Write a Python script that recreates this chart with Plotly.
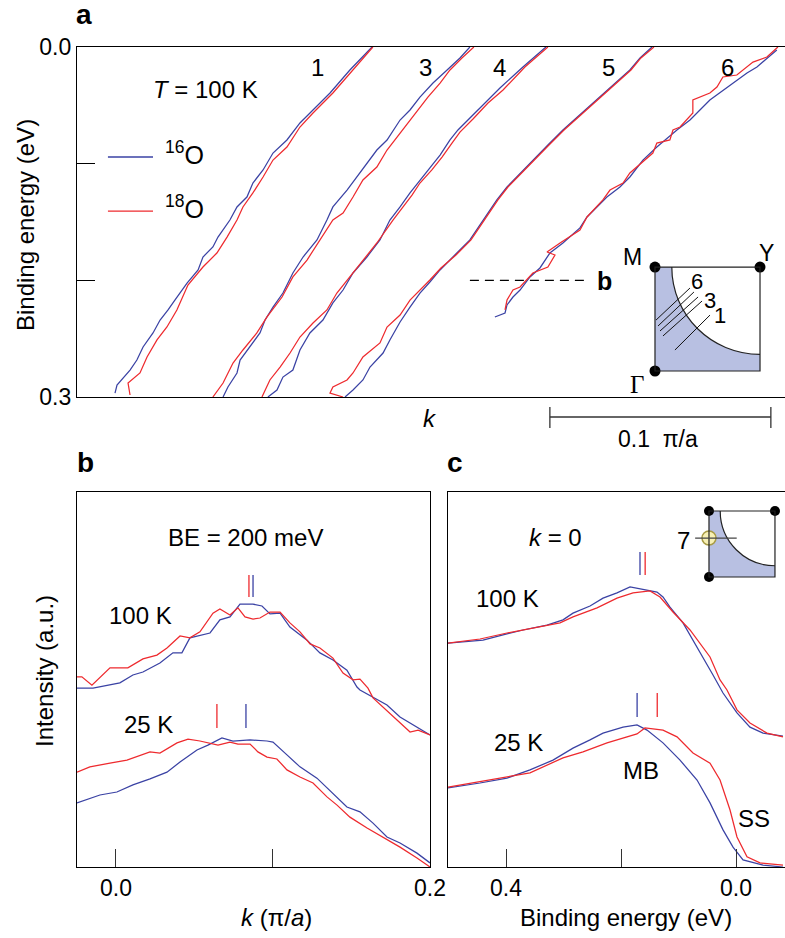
import plotly.graph_objects as go

W, H = 785, 938
BLUE = "#3a42a4"
RED = "#ee2a2e"
SHADE = "#b8c0e2"
FONT = "Liberation Sans, Arial, Helvetica, sans-serif"

# ---------------- Panel a : dispersions (k in pi/a, binding energy in eV) ----------------
a1_blue_k = [.1335,.1235,.1145,.1068,.1009,.0950,.0887,.0842,.0796,.0769,.0724,.0692,.0638,.0615,.0570,.0548,.0498,.0443,.0412,.0376,.0344,.0299,.0271,.0240,.0181,.0172]
a1_blue_be = [0,.0197,.0394,.0540,.0651,.0797,.0909,.1054,.1166,.1286,.1371,.1483,.1629,.1714,.1800,.1911,.2023,.2169,.2254,.2340,.2451,.2571,.2683,.2769,.2897,.2966]
a1_red_k = [.1339,.1249,.1158,.1068,.1009,.0950,.0887,.0842,.0796,.0751,.0724,.0679,.0633,.0570,.0502,.0452,.0407,.0362,.0317,.0285,.0231,.0240]
a1_red_be = [0,.0197,.0394,.0566,.0686,.0857,.0969,.1114,.1251,.1371,.1483,.1629,.1766,.1886,.2040,.2254,.2400,.2511,.2657,.2794,.2880,.2983]

a3_blue_k = [.1778,.1733,.1665,.1611,.1552,.1507,.1462,.1403,.1357,.1312,.1267,.1222,.1158,.1131,.1086,.1023,.0977,.0932,.0887,.0851,.0828,.0783,.0738,.0724,.0683,.0661]
a3_blue_be = [0,.0094,.0214,.0309,.0429,.0540,.0626,.0797,.0883,.0994,.1114,.1226,.1371,.1483,.1654,.1800,.1937,.2109,.2229,.2340,.2451,.2571,.2683,.2794,.2914,.3000]
a3_red_k = [.1796,.1742,.1688,.1643,.1588,.1543,.1462,.1403,.1357,.1294,.1249,.1204,.1158,.1100,.1041,.0977,.0928,.0860,.0814,.0751,.0706,.0661,.0615]
a3_red_be = [0,.0094,.0197,.0309,.0429,.0540,.0737,.0883,.1029,.1140,.1286,.1423,.1483,.1654,.1826,.1971,.2143,.2314,.2451,.2597,.2709,.2880,.3000]

a4_blue_k = [.2122,.2018,.1914,.1846,.1778,.1724,.1688,.1643,.1597,.1552,.1507,.1462,.1416,.1371,.1312,.1249,.1204,.1158,.1113,.1054,.1009,.0977,.0932,.0905,.0864]
a4_blue_be = [0,.0171,.0351,.0480,.0600,.0711,.0797,.0926,.1037,.1140,.1251,.1371,.1483,.1654,.1800,.1937,.2083,.2194,.2340,.2451,.2597,.2769,.2829,.2940,.3000]
a4_red_k = [.2131,.2027,.1928,.1860,.1792,.1733,.1697,.1652,.1606,.1552,.1516,.1471,.1430,.1357,.1294,.1235,.1176,.1131,.1068,.1009,.0964,.0919,.0873,.0837]
a4_red_be = [0,.0171,.0369,.0480,.0617,.0729,.0823,.0943,.1054,.1166,.1269,.1380,.1483,.1680,.1826,.1971,.2109,.2254,.2366,.2486,.2623,.2743,.2854,.3000]

a5_blue_k = [.2602,.2548,.2502,.2425,.2353,.2276,.2199,.2131,.2063,.2005,.1946,.1900,.1855,.1778,.1710,.1643,.1597,.1552,.1507,.1462,.1416,.1385,.1326,.1294,.1249,.1213]
a5_blue_be = [0,.0094,.0197,.0326,.0454,.0583,.0711,.0840,.0969,.1080,.1200,.1311,.1440,.1654,.1783,.1911,.2014,.2109,.2229,.2357,.2511,.2623,.2743,.2854,.2940,.3000]
a5_red_k = [.2611,.2552,.2507,.2430,.2357,.2281,.2204,.2136,.2068,.2009,.1950,.1905,.1860,.1783,.1715,.1647,.1597,.1552,.1507,.1462,.1403,.1371,.1294,.1249,.1222,.1158,.1145,.1204]
a5_red_be = [0,.0094,.0197,.0326,.0454,.0583,.0711,.0840,.0969,.1080,.1200,.1311,.1440,.1654,.1783,.1894,.1997,.2083,.2169,.2297,.2400,.2537,.2657,.2794,.2854,.2914,.2966,.3000]

a6_blue_k = [.3167,.3077,.3032,.2923,.2864,.2774,.2715,.2624,.2561,.2502,.2457,.2398,.2353,.2308,.2276,.2199,.2140,.2095,.2050,.2005,.1973,.1946,.1937,.1891]
a6_blue_be = [.0026,.0171,.0223,.0369,.0454,.0626,.0711,.0857,.0969,.1114,.1200,.1286,.1371,.1457,.1551,.1680,.1766,.1894,.1971,.2083,.2143,.2211,.2280,.2314]
a6_red_k = [.3172,.3122,.3059,.3032,.2986,.2923,.2896,.2864,.2787,.2787,.2729,.2697,.2683,.2624,.2606,.2502,.2471,.2412,.2380,.2308,.2276,.2186,.2127,.2163,.2131,.2063,.2036,.2005,.1973,.1946,.1937]
a6_red_be = [0,.0086,.0129,.0171,.0240,.0257,.0343,.0394,.0454,.0566,.0686,.0711,.0797,.0823,.0909,.1080,.1166,.1226,.1311,.1457,.1569,.1680,.1757,.1783,.1886,.1937,.1997,.2057,.2083,.2169,.2254]

cut_labels = ["1", "3", "4", "5", "6"]
cut_label_k = [.1090, .1579, .1914, .2403, .2946]
cut_label_be = 0.018
a_ticks = [0.0, 0.3]
a_ticktext = ["0.0", "0.3"]
a_minor_ticks = [0.1, 0.2]
be_cut = 0.2                      # dashed line marking panel b
scale_bar_k = [0.214, 0.314]      # 0.1 pi/a

# ---------------- Panel b : MDCs at BE = 200 meV ----------------
b_red100_k = [-.0248,-.0217,-.0153,-.0038,.0076,.0172,.0261,.0325,.0408,.0471,.0535,.0618,.0662,.0726,.0777,.0822,.0873,.0917,.0981,.1045,.1108,.1172,.1236,.1299,.1382,.1446,.1510,.1554,.1605,.1637,.1790,.1873,.1924,.2000]
b_red100_I = [.507,.507,.485,.531,.531,.555,.565,.584,.616,.611,.627,.677,.688,.672,.691,.667,.661,.664,.680,.680,.651,.627,.595,.584,.557,.517,.499,.501,.477,.451,.392,.360,.365,.352]
b_blue100_k = [-.0248,-.0146,.0025,.0108,.0172,.0280,.0363,.0420,.0471,.0599,.0662,.0726,.0790,.0873,.0930,.0981,.1045,.1108,.1217,.1299,.1382,.1471,.1535,.1554,.1726,.1809,.2000]
b_blue100_I = [.477,.477,.491,.512,.520,.544,.571,.571,.611,.624,.659,.667,.701,.701,.696,.675,.677,.640,.605,.571,.552,.525,.480,.472,.432,.400,.352]
b_red25_k = [-.0248,-.0166,-.0038,.0070,.0217,.0280,.0389,.0459,.0535,.0599,.0650,.0726,.0777,.0854,.0904,.0962,.1025,.1089,.1172,.1255,.1344,.1408,.1490,.1599,.1701,.1809,.1917,.2000]
b_red25_I = [.253,.267,.277,.285,.307,.304,.331,.341,.336,.331,.325,.333,.328,.328,.307,.293,.288,.259,.240,.224,.187,.165,.133,.104,.080,.053,.024,0]
b_blue25_k = [-.0248,-.0102,.0006,.0108,.0217,.0325,.0408,.0516,.0586,.0675,.0745,.0854,.0962,.1000,.1089,.1172,.1280,.1382,.1471,.1554,.1637,.1726,.1809,.1917,.2000]
b_blue25_I = [.171,.192,.200,.219,.235,.253,.280,.312,.325,.344,.336,.339,.336,.333,.299,.267,.237,.197,.160,.147,.117,.080,.064,.037,.011]
b_peak100 = {"red": .0847, "blue": .0873}
b_peak100_I = [.720, .779]
b_peak25 = {"red": .0643, "blue": .0828}
b_peak25_I = [.371, .435]
b_ticks = [0.0, 0.2]
b_ticktext = ["0.0", "0.2"]
b_minor_ticks = [0.1]

# ---------------- Panel c : EDCs at k = 0 ----------------
c_blue100_be = [.5009,.4748,.4400,.4052,.3704,.3287,.3009,.2835,.2539,.2313,.2070,.1843,.1617,.1374,.1270,.1148,.0922,.0678,.0400,.0226,-.0017,-.0243,-.0470,-.0817]
c_blue100_I = [.597,.600,.605,.619,.632,.645,.659,.677,.696,.717,.731,.747,.741,.733,.720,.693,.651,.587,.512,.464,.411,.373,.357,.349]
c_red100_be = [.5009,.4452,.3983,.3583,.3061,.2835,.2417,.2070,.1791,.1496,.1322,.1096,.0800,.0452,.0278,.0157,-.0017,-.0243,-.0539,-.0817]
c_red100_I = [.597,.608,.624,.635,.651,.667,.691,.717,.731,.736,.720,.680,.632,.560,.499,.472,.419,.384,.357,.347]
c_blue25_be = [.5009,.4452,.3983,.3583,.3183,.2835,.2539,.2313,.1965,.1722,.1548,.1270,.0974,.0678,.0452,.0226,.0052,-.0122,-.0470,-.0817]
c_blue25_I = [.211,.224,.237,.259,.285,.317,.339,.357,.373,.379,.365,.331,.285,.232,.171,.099,.053,.019,.005,0]
c_red25_be = [.5009,.4157,.3583,.3009,.2661,.2243,.1896,.1722,.1583,.1270,.1026,.0748,.0452,.0278,.0104,-.0017,-.0191,-.0417,-.0817]
c_red25_I = [.213,.235,.251,.291,.307,.331,.347,.355,.371,.365,.347,.304,.277,.232,.152,.080,.027,.011,.005]
c_peak100 = {"red": .158, "blue": .167}
c_peak100_I = [.779, .840]
c_peak25 = {"red": .137, "blue": .172}
c_peak25_I = [.400, .464]
c_ticks = [0.4, 0.0]
c_ticktext = ["0.4", "0.0"]
c_minor_ticks = [0.2]

# ---------------- Brillouin-zone insets (units of the zone quadrant) ----------------
bz_corners_x = [0, 0, 1]          # Gamma, M, Y
bz_corners_y = [0, 1, 1]
fs_radius_a = 0.84
cuts_a = [  # (x0, y0, x1, y1) for cuts 6,5,4,3,1
    (.010, .490, .333, .798), (.029, .433, .371, .760), (.048, .385, .410, .712),
    (.076, .337, .448, .673), (.190, .202, .524, .538)]
cut_text_a = [("6", .40, .86), ("3", .52, .68), ("1", .62, .53)]
fs_radius_c = 0.83
cut7_y = 0.59
cut7_x = [-0.21, 0.42]

fig = go.Figure()


def line(x, y, color, xa, ya, width=1.25):
    fig.add_trace(go.Scatter(x=x, y=y, mode="lines", line=dict(color=color, width=width),
                             xaxis=xa, yaxis=ya, hoverinfo="skip", showlegend=False))


# panel a curves
for kb, eb, kr, er in [(a1_blue_k, a1_blue_be, a1_red_k, a1_red_be),
                       (a3_blue_k, a3_blue_be, a3_red_k, a3_red_be),
                       (a4_blue_k, a4_blue_be, a4_red_k, a4_red_be),
                       (a5_blue_k, a5_blue_be, a5_red_k, a5_red_be),
                       (a6_blue_k, a6_blue_be, a6_red_k, a6_red_be)]:
    line(kb, eb, BLUE, "x", "y")
    line(kr, er, RED, "x", "y")

# panel b curves
line(b_blue100_k, b_blue100_I, BLUE, "x2", "y2")
line(b_red100_k, b_red100_I, RED, "x2", "y2")
line(b_blue25_k, b_blue25_I, BLUE, "x2", "y2")
line(b_red25_k, b_red25_I, RED, "x2", "y2")
for pk, rng in [(b_peak100, b_peak100_I), (b_peak25, b_peak25_I)]:
    line([pk["red"]] * 2, rng, RED, "x2", "y2", 1.3)
    line([pk["blue"]] * 2, rng, BLUE, "x2", "y2", 1.3)

# panel c curves
line(c_blue100_be, c_blue100_I, BLUE, "x3", "y3")
line(c_red100_be, c_red100_I, RED, "x3", "y3")
line(c_blue25_be, c_blue25_I, BLUE, "x3", "y3")
line(c_red25_be, c_red25_I, RED, "x3", "y3")
for pk, rng in [(c_peak100, c_peak100_I), (c_peak25, c_peak25_I)]:
    line([pk["red"]] * 2, rng, RED, "x3", "y3", 1.3)
    line([pk["blue"]] * 2, rng, BLUE, "x3", "y3", 1.3)

# inset dots
fig.add_trace(go.Scatter(x=bz_corners_x, y=bz_corners_y, mode="markers", xaxis="x4", yaxis="y4",
                         marker=dict(color="black", size=11), cliponaxis=False, hoverinfo="skip", showlegend=False))
fig.add_trace(go.Scatter(x=bz_corners_x, y=bz_corners_y, mode="markers", xaxis="x5", yaxis="y5",
                         marker=dict(color="black", size=10), cliponaxis=False, hoverinfo="skip", showlegend=False))

shapes = []


def quadrant_path(r):
    c = 0.5523 * r
    return (f"M 0 1 L {1-r} 1 C {1-r} {1-c} {1-c} {1-r} 1 {1-r} L 1 0 L 0 0 Z",
            f"M {1-r} 1 C {1-r} {1-c} {1-c} {1-r} 1 {1-r}")


for xr, yr, r in [("x4", "y4", fs_radius_a), ("x5", "y5", fs_radius_c)]:
    fill, arc = quadrant_path(r)
    shapes.append(dict(type="path", path=fill, xref=xr, yref=yr, fillcolor=SHADE, line=dict(width=0), layer="below"))
    shapes.append(dict(type="rect", x0=0, y0=0, x1=1, y1=1, xref=xr, yref=yr, line=dict(color="#222", width=1.2)))
    shapes.append(dict(type="path", path=arc, xref=xr, yref=yr, line=dict(color="#222", width=1.2)))

for x0, y0, x1, y1 in cuts_a:
    shapes.append(dict(type="line", x0=x0, y0=y0, x1=x1, y1=y1, xref="x4", yref="y4", line=dict(color="#111", width=1)))
shapes.append(dict(type="line", x0=cut7_x[0], y0=cut7_y, x1=cut7_x[1], y1=cut7_y, xref="x5", yref="y5",
                   line=dict(color="#444", width=1.3)))

# legend samples & dashed cut in panel a
shapes.append(dict(type="line", x0=.014, x1=.0344, y0=.0943, y1=.0943, xref="x", yref="y", line=dict(color=BLUE, width=1.3)))
shapes.append(dict(type="line", x0=.014, x1=.0344, y0=.1406, y1=.1406, xref="x", yref="y", line=dict(color=RED, width=1.3)))
shapes.append(dict(type="line", x0=.1778, x1=.2321, y0=be_cut, y1=be_cut, xref="x", yref="y",
                   line=dict(color="black", width=1.2, dash="9px,6px")))

# scale bar
ybar = 1 - 417 / H
shapes.append(dict(type="line", x0=scale_bar_k[0], x1=scale_bar_k[1], y0=ybar, y1=ybar, xref="x", yref="paper",
                   line=dict(color="#333", width=1.3)))
for kk in scale_bar_k:
    shapes.append(dict(type="line", x0=kk, x1=kk, y0=1 - 407 / H, y1=1 - 428 / H, xref="x", yref="paper",
                       line=dict(color="#333", width=1.3)))

fig.add_trace(go.Scatter(x=[0], y=[cut7_y], mode="markers", xaxis="x5", yaxis="y5",
                         marker=dict(color="#f7f0b4", size=14, line=dict(color="#a89b45", width=1.5)),
                         cliponaxis=False, hoverinfo="skip", showlegend=False))

ann = []


def text(t, x, y, size=23, xanchor="center", yanchor="middle", textangle=0, xref="paper", yref="paper",
         paper=True, family=FONT):
    if paper:
        x, y = x / W, 1 - y / H
    ann.append(dict(text=t, x=x, y=y, xref=xref, yref=yref, showarrow=False, xanchor=xanchor, yanchor=yanchor,
                    textangle=textangle, font=dict(size=size, color="black", family=family)))


# panel letters
text("<b>a</b>", 84, 14, 28)
text("<b>b</b>", 85, 463, 28)
text("<b>c</b>", 455, 463, 28)

# panel a texts
text("<i>T</i> = 100 K", 205, 90, 24)
for lab, kk in zip(cut_labels, cut_label_k):
    text(lab, kk, cut_label_be, 24, xref="x", yref="y", paper=False)
text("<sup>16</sup>O", 163, 153, 25, xanchor="left")
text("<sup>18</sup>O", 163, 207, 25, xanchor="left")
text("<b>b</b>", 604, 281, 25)
text("<i>k</i>", 430, 418, 24)
text("0.1  \u03c0/a", 658, 439, 23)
text("Binding energy (eV)", 25, 225, 24, textangle=-90)

# inset a labels
text("M", 632, 257, 23)
text("Y", 766, 253, 23)
text("\u0393", 637, 384, 25, family="Liberation Serif, Times New Roman, serif")
for t, xx, yy in cut_text_a:
    text(t, xx, yy, 22, xref="x4", yref="y4", paper=False)

# panel b texts
text("BE = 200 meV", 245, 537, 24)
text("100 K", 140, 615, 24)
text("25 K", 148, 724, 24)
text("Intensity (a.u.)", 44, 671, 24, textangle=-90)
text("<i>k</i> (\u03c0/<i>a</i>)", 276, 917, 24)

# panel c texts
text("<i>k</i> = 0", 555, 537, 24)
text("100 K", 507, 598, 24)
text("25 K", 518, 742, 24)
text("MB", 641, 770, 24)
text("SS", 754, 818, 24)
text("7", 683, 540, 24)
text("Binding energy (eV)", 626, 917, 24)

axis_common = dict(showgrid=False, zeroline=False, linecolor="black", linewidth=1.2, showline=True,
                   automargin=False, tickfont=dict(size=23, family=FONT, color="black"))
minor_common = dict(ticks="inside", ticklen=18, tickwidth=1.2, showgrid=False)

fig.update_layout(
    template="none",
    width=W, height=H, margin=dict(l=0, r=0, t=0, b=0, pad=0, autoexpand=False),
    paper_bgcolor="white", plot_bgcolor="rgba(0,0,0,0)", showlegend=False,
    font=dict(family=FONT, color="black"),
    xaxis=dict(domain=[77 / W, 1], range=[0, 0.3204], anchor="y", mirror=True, showticklabels=False, ticks="",
               **axis_common),
    yaxis=dict(domain=[1 - 397 / H, 1 - 47 / H], range=[0.3, 0], anchor="x", ticks="inside", ticklen=18,
               tickwidth=1.2, tickcolor="black", tickvals=a_ticks, ticktext=a_ticktext,
               minor=dict(tickvals=a_minor_ticks, tickcolor="black", **minor_common), **axis_common),
    xaxis2=dict(domain=[77 / W, 430 / W], range=[-0.0248, 0.2], anchor="y2", mirror=True, ticks="inside",
                ticklen=18, tickwidth=1.2, tickcolor="#333", tickvals=b_ticks, ticktext=b_ticktext,
                minor=dict(tickvals=b_minor_ticks, tickcolor="#333", **minor_common), **axis_common),
    yaxis2=dict(domain=[1 - 867 / H, 1 - 492 / H], range=[0, 1], anchor="x2", mirror=True, showticklabels=False,
                ticks="", **axis_common),
    xaxis3=dict(domain=[448 / W, 1], range=[0.5009, -0.0852], anchor="y3", mirror=True, ticks="inside",
                ticklen=18, tickwidth=1.2, tickcolor="#333", tickvals=c_ticks, ticktext=c_ticktext,
                minor=dict(tickvals=c_minor_ticks, tickcolor="#333", **minor_common), **axis_common),
    yaxis3=dict(domain=[1 - 867 / H, 1 - 492 / H], range=[0, 1], anchor="x3", mirror=True, showticklabels=False,
                ticks="", **axis_common),
    xaxis4=dict(domain=[630 / W, 785 / W], range=[-0.238, 1.238], anchor="y4", visible=False),
    yaxis4=dict(domain=[1 - 395 / H, 1 - 245 / H], range=[-0.231, 1.212], anchor="x4", visible=False),
    xaxis5=dict(domain=[670 / W, 785 / W], range=[-0.591, 1.152], anchor="y5", visible=False),
    yaxis5=dict(domain=[1 - 590 / H, 1 - 495 / H], range=[-0.197, 1.242], anchor="x5", visible=False),
    shapes=shapes, annotations=ann,
)

fig.write_html("out.html", config={"displayModeBar": False},
               post_script="document.body.style.margin='0px';document.body.style.overflow='hidden';")
